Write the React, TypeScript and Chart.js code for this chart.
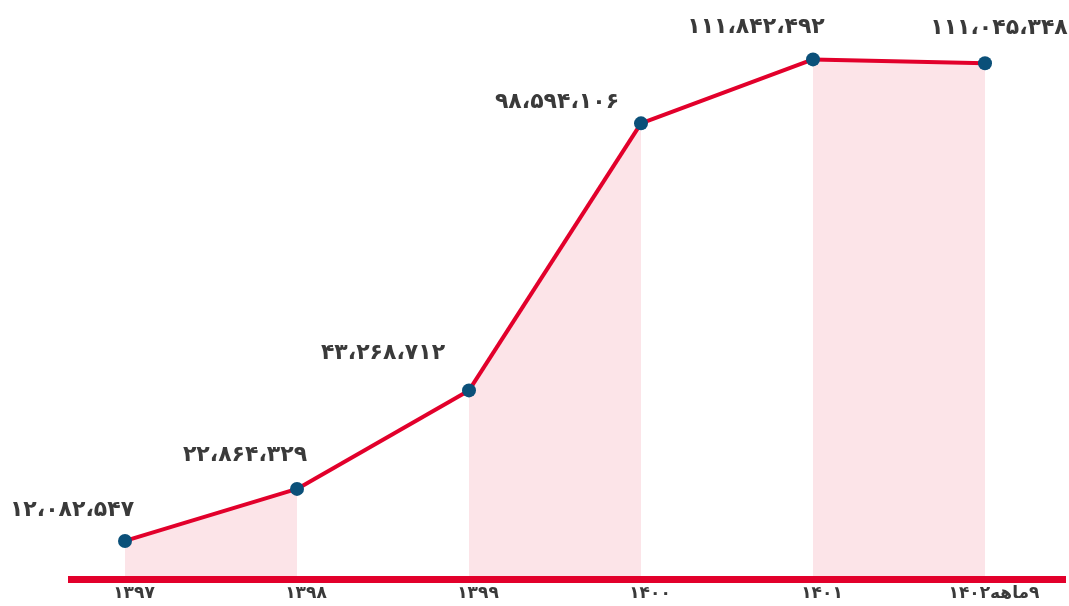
import React, { useEffect, useRef } from "react";
import { Chart, registerables } from "chart.js";

Chart.register(...registerables);

const categories: string[] = ["۱۳۹۷", "۱۳۹۸", "۱۳۹۹", "۱۴۰۰", "۱۴۰۱", "\u202B۹ماهه۱۴۰۲\u202C"];
const values: number[] = [12082547, 22864329, 43268712, 98594106, 111842492, 111045348];
const yMin = 4200000;
const yMax = 120000000;

// label offsets relative to each point (styling only)
const labelDx: number[] = [-53, -52, -86, -84, -57, 14];
const labelDy: number[] = [-31, -34, -37, -21, -32, -35];

const RED = "#e2002b";
const BLUE = "#0b5079";
const PINK = "#fce4e8";
const TEXT = "#3a3a3a";
const FONT = "'DejaVu Sans', sans-serif";

const faDigits = "۰۱۲۳۴۵۶۷۸۹";
function toFa(n: number): string {
  const s = String(Math.round(n));
  const parts: string[] = [];
  for (let i = s.length; i > 0; i -= 3) parts.unshift(s.slice(Math.max(0, i - 3), i));
  return parts.join("،").replace(/[0-9]/g, (d) => faDigits[+d]);
}

const overlayPlugin = {
  id: "overlay",
  afterDatasetsDraw(chart: any) {
    const { ctx, chartArea } = chart;
    ctx.save();
    ctx.fillStyle = RED;
    ctx.fillRect(chartArea.left - 57, chartArea.bottom - 3, chartArea.right - chartArea.left + 138, 7);
    ctx.restore();
  },
  afterDraw(chart: any) {
    const { ctx, chartArea } = chart;
    const meta = chart.getDatasetMeta(0);
    const xs = chart.scales.x;
    ctx.save();
    ctx.font = `bold 22px ${FONT}`;
    ctx.fillStyle = TEXT;
    ctx.textAlign = "center";
    ctx.textBaseline = "middle";
    meta.data.forEach((pt: any, i: number) => {
      ctx.fillText(toFa(values[i]), pt.x + labelDx[i], pt.y + labelDy[i]);
    });
    // category labels
    ctx.font = `bold 17px ${FONT}`;
    ctx.textBaseline = "middle";
    categories.forEach((c, i) => {
      const x = xs.getPixelForTick(i);
      ctx.fillText(c, x + 9, chartArea.bottom + 15);
    });
    ctx.restore();
  },
};

export default function App() {
  const ref = useRef<HTMLCanvasElement | null>(null);
  useEffect(() => {
    if (!ref.current) return;
    const chart = new Chart(ref.current, {
      type: "line",
      data: {
        labels: categories,
        datasets: [
          {
            data: values,
            borderColor: RED,
            borderWidth: 4,
            pointBackgroundColor: BLUE,
            pointBorderColor: BLUE,
            pointBorderWidth: 0,
            pointRadius: 7,
            fill: "start",
            backgroundColor: PINK,
            tension: 0,
            segment: {
              backgroundColor: (c: any) => (c.p0DataIndex % 2 === 0 ? PINK : "rgba(0,0,0,0)"),
            },
          } as any,
        ],
      },
      options: {
        responsive: false,
        animation: false,
        layout: { padding: { left: 125, right: 84, top: 20, bottom: 0 } },
        plugins: { legend: { display: false }, tooltip: { enabled: false } },
        scales: {
          x: {
            offset: false,
            grid: { display: false, drawTicks: false },
            border: { display: false },
            ticks: { display: false, autoSkip: false },
            afterFit: (s: any) => {
              s.height = 27;
            },
          },
          y: {
            display: false,
            min: yMin,
            max: yMax,
          },
        },
      },
      plugins: [overlayPlugin],
    });
    return () => chart.destroy();
  }, []);
  return (
    <div style={{ position: "fixed", left: 0, top: 0, width: 1069, height: 606, background: "#fff" }}>
      <canvas ref={ref} width={1069} height={606} style={{ display: "block" }} />
    </div>
  );
}
